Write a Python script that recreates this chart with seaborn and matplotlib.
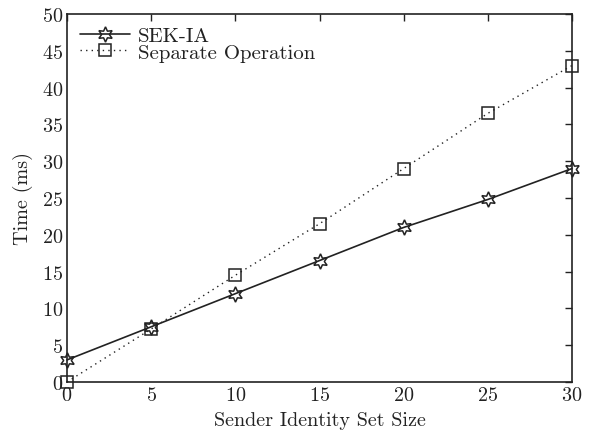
import matplotlib
matplotlib.use("Agg")
import matplotlib.pyplot as plt
import seaborn as sns
import pandas as pd

sizes = [0, 5, 10, 15, 20, 25, 30]
sek_ia = [3.0, 7.5, 12.0, 16.5, 21.0, 24.8, 29.0]
separate = [0.0, 7.2, 14.5, 21.5, 29.0, 36.5, 43.0]
series_names = ["SEK-IA", "Separate Operation"]

sns.set_theme(style="white")
plt.rcParams['font.family'] = ['cmr10', 'DejaVu Serif']
plt.rcParams['axes.formatter.use_mathtext'] = True
plt.rcParams['mathtext.fontset'] = 'cm'

df = pd.DataFrame({"size": sizes * 2,
                   "time": sek_ia + separate,
                   "method": [series_names[0]] * len(sizes) + [series_names[1]] * len(sizes)})

fig = plt.figure(figsize=(5.92, 4.35), dpi=100)
ax = fig.add_axes([67/592, (435-383)/435, 505/592, 368/435])

d1 = df[df.method == series_names[0]]
d2 = df[df.method == series_names[1]]
sns.lineplot(data=d1, x="size", y="time", ax=ax, color="#222222", lw=1.2,
             marker=(6, 1, 0), markersize=11, markerfacecolor="none",
             markeredgecolor="#222222", markeredgewidth=1.1, label=series_names[0])
sns.lineplot(data=d2, x="size", y="time", ax=ax, color="#222222", lw=1.0,
             linestyle=(0, (1, 3)), marker="s", markersize=8, markerfacecolor="none",
             markeredgecolor="#222222", markeredgewidth=1.1, label=series_names[1])

ax.set_xlim(0, 30)
ax.set_ylim(0, 50)
ax.set_xticks(range(0, 31, 5))
ax.set_yticks(range(0, 51, 5))
ax.tick_params(direction="in", length=5, width=1, top=True, right=True,
               labelsize=14.5, colors="#222222", pad=3)
for s in ax.spines.values():
    s.set_linewidth(1.2)
    s.set_color("#222222")
ax.set_xlabel("Sender Identity Set Size", fontsize=14.5, color="#222222", labelpad=5)
ax.set_ylabel("Time (ms)", fontsize=14.5, color="#222222", labelpad=6)
ax.lines[0].set_clip_on(False)
ax.lines[1].set_clip_on(False)

leg = ax.legend(loc="upper left", frameon=False, fontsize=15, handlelength=2.4,
                borderaxespad=0.2, labelspacing=-0.1, handletextpad=0.4)
for t in leg.get_texts():
    t.set_color("#222222")

fig.savefig("out.png", dpi=100)
